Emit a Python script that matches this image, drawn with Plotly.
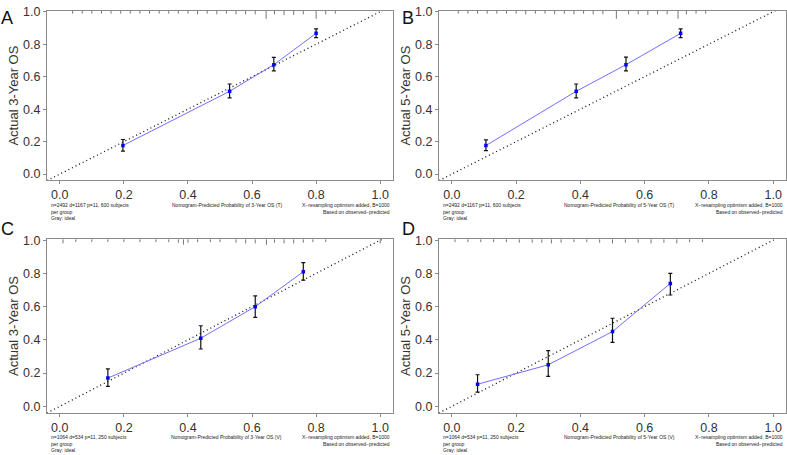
import plotly.graph_objects as go

# ---------------- data ----------------
panel_letters = ["A", "B", "C", "D"]
y_titles = ["Actual 3-Year OS", "Actual 5-Year OS", "Actual 3-Year OS", "Actual 5-Year OS"]
x_titles = ["Nomogram-Predicted Probability of 3-Year OS (T)",
            "Nomogram-Predicted Probability of 5-Year OS (T)",
            "Nomogram-Predicted Probability of 3-Year OS (V)",
            "Nomogram-Predicted Probability of 5-Year OS (V)"]
left_notes = ["n=2492 d=1167 p=11, 600 subjects<br>per group<br>Gray: ideal",
              "n=2492 d=1167 p=11, 600 subjects<br>per group<br>Gray: ideal",
              "n=1064 d=534 p=11, 250 subjects<br>per group<br>Gray: ideal",
              "n=1064 d=534 p=11, 250 subjects<br>per group<br>Gray: ideal"]
right_notes = ["X\u2212resampling optimism added, B=1000<br>Based on observed\u2212predicted"] * 4

a_pred = [0.197, 0.530, 0.668, 0.800]
a_obs = [0.176, 0.510, 0.674, 0.867]
a_lo = [0.142, 0.470, 0.636, 0.841]
a_hi = [0.213, 0.555, 0.719, 0.895]

b_pred = [0.106, 0.387, 0.542, 0.712]
b_obs = [0.176, 0.510, 0.674, 0.867]
b_lo = [0.144, 0.470, 0.636, 0.841]
b_hi = [0.211, 0.555, 0.720, 0.895]

c_pred = [0.150, 0.440, 0.610, 0.760]
c_obs = [0.170, 0.410, 0.600, 0.810]
c_lo = [0.120, 0.345, 0.535, 0.760]
c_hi = [0.225, 0.485, 0.665, 0.865]

d_pred = [0.080, 0.300, 0.500, 0.680]
d_obs = [0.133, 0.250, 0.450, 0.740]
d_lo = [0.085, 0.180, 0.385, 0.670]
d_hi = [0.190, 0.335, 0.530, 0.800]

# rug (distribution of predicted values) at the top: positions and relative heights
a_rug_x = [0.04, 0.07, 0.10, 0.13, 0.16, 0.19, 0.22, 0.25, 0.28, 0.31, 0.34, 0.37, 0.40, 0.43,
           0.46, 0.49, 0.52, 0.55, 0.58, 0.61, 0.644, 0.67, 0.70, 0.73, 0.76, 0.80, 0.83, 0.86]
a_rug_h = [1, 1, 1, 1, 1, 1, 1, 1, 1, 1, 1, 1, 1, 1.5, 1, 1.5, 1, 1.5, 1.5, 1.5, 5, 1.5, 2, 2, 1.5, 5, 1.5, 1]
b_rug_x = [0.02, 0.05, 0.08, 0.11, 0.14, 0.17, 0.20, 0.23, 0.26, 0.29, 0.32, 0.35, 0.38, 0.41,
           0.44, 0.47, 0.512, 0.55, 0.58, 0.61, 0.64, 0.67, 0.704, 0.73, 0.76, 0.79]
b_rug_h = [1, 1, 1, 1, 1, 1, 1, 1.5, 1, 1, 1.5, 1, 1.5, 1, 1.5, 1.5, 5, 1.5, 1.5, 2, 1.5, 1.5, 5, 1.5, 1, 1]
c_rug_x = [0.01, 0.05, 0.10, 0.15, 0.20, 0.25, 0.30, 0.34, 0.37, 0.386, 0.40, 0.43, 0.47, 0.50,
           0.55, 0.58, 0.61, 0.645, 0.67, 0.70, 0.73, 0.76, 0.79, 0.83, 1.00]
c_rug_h = [2, 1, 1, 1, 1, 1, 1, 1, 1.5, 3, 1.5, 1, 1, 1, 1.5, 2, 2, 3, 1.5, 2, 2, 1.5, 1, 1, 2]
d_rug_x = [0.01, 0.05, 0.09, 0.13, 0.17, 0.21, 0.25, 0.28, 0.31, 0.34, 0.38, 0.42, 0.46, 0.50,
           0.54, 0.58, 0.62, 0.66, 0.70, 0.74, 0.78]
d_rug_h = [1, 1, 1, 1, 1, 1.5, 1.5, 1.5, 2, 1.5, 1, 1, 1.5, 2, 1.5, 1.5, 2, 1.5, 2, 1, 1]

series = [
    (a_pred, a_obs, a_lo, a_hi, a_rug_x, a_rug_h),
    (b_pred, b_obs, b_lo, b_hi, b_rug_x, b_rug_h),
    (c_pred, c_obs, c_lo, c_hi, c_rug_x, c_rug_h),
    (d_pred, d_obs, d_lo, d_hi, d_rug_x, d_rug_h),
]

# ---------------- layout geometry (pixels) ----------------
W, H = 787, 455
# (left, right, top, bottom) of each plot frame
frames = [(47, 393, 5, 177), (439, 786, 5, 177), (47, 393, 237, 413), (439, 786, 237, 413)]

X_RANGE = [-0.04, 1.04]
Y_RANGE = [-0.038, 1.005]
FONT = "Liberation Sans, Arial, Helvetica, sans-serif"
FRAME_COLOR = "#8a8a8a"
TEXT_COLOR = "#333333"

fig = go.Figure()
layout = dict(
    width=W, height=H,
    margin=dict(l=0, r=0, t=0, b=0),
    paper_bgcolor="white", plot_bgcolor="white",
    showlegend=False,
    font=dict(family=FONT, color=TEXT_COLOR),
    annotations=[], shapes=[],
)

for i, (pred, obs, lo, hi, rx, rh) in enumerate(series):
    n = i + 1
    xa = "x" if n == 1 else f"x{n}"
    ya = "y" if n == 1 else f"y{n}"
    l, r, t, b = frames[i]
    layout[f"xaxis{'' if n == 1 else n}"] = dict(
        domain=[l / W, r / W], range=X_RANGE, anchor=ya,
        tickvals=[0, 0.2, 0.4, 0.6, 0.8, 1.0], tickformat=".1f",
        showgrid=False, zeroline=False, showline=True, mirror=True,
        linecolor=FRAME_COLOR, linewidth=1, ticks="outside", ticklen=3,
        tickcolor=FRAME_COLOR, tickfont=dict(size=12.5, color=TEXT_COLOR, family=FONT),
        ticklabeloverflow="allow",
    )
    layout[f"yaxis{'' if n == 1 else n}"] = dict(
        domain=[1 - b / H, 1 - t / H], range=Y_RANGE, anchor=xa,
        tickvals=[0, 0.2, 0.4, 0.6, 0.8, 1.0], tickformat=".1f",
        showgrid=False, zeroline=False, showline=True, mirror=True,
        linecolor=FRAME_COLOR, linewidth=1, ticks="outside", ticklen=3,
        tickcolor=FRAME_COLOR, tickfont=dict(size=12.5, color=TEXT_COLOR, family=FONT),
        title=dict(text=y_titles[i], font=dict(size=13, color=TEXT_COLOR, family=FONT), standoff=1),
    )

    # ideal line
    fig.add_trace(go.Scatter(x=X_RANGE, y=X_RANGE, mode="lines", xaxis=xa, yaxis=ya,
                             line=dict(color="#111111", width=1.3, dash="1px,3px"), hoverinfo="skip"))
    # calibration curve
    fig.add_trace(go.Scatter(x=pred, y=obs, mode="lines+markers", xaxis=xa, yaxis=ya,
                             line=dict(color="#7070ff", width=1),
                             marker=dict(symbol="square", size=3.5, color="#0000ff"),
                             error_y=dict(type="data", symmetric=False,
                                          array=[h - o for h, o in zip(hi, obs)],
                                          arrayminus=[o - q for o, q in zip(obs, lo)],
                                          color="#111111", thickness=1.2, width=2)))
    # rug at top
    for xv, hv in zip(rx, rh):
        px = 1.5 + hv * 1.3
        layout["shapes"].append(dict(type="line", xref=xa, yref=f"{ya} domain",
                                     x0=xv, x1=xv, y0=1, y1=1 - px / (b - t),
                                     line=dict(color="#777777", width=1)))

    # panel letter
    lx = 7 if i % 2 == 0 else 408
    ly = 12 if i < 2 else 226
    layout["annotations"].append(dict(text=panel_letters[i], x=lx / W, y=1 - ly / H, xref="paper", yref="paper",
                                      showarrow=False, xanchor="center", yanchor="middle",
                                      font=dict(size=18, color="#111111", family=FONT)))
    # small notes below the x axis
    ny = b + 20
    layout["annotations"].append(dict(text=left_notes[i], x=(l + 2) / W, y=1 - ny / H, xref="paper", yref="paper",
                                      showarrow=False, xanchor="left", yanchor="top", align="left",
                                      font=dict(size=5, color="#222222", family=FONT)))
    layout["annotations"].append(dict(text=x_titles[i], x=(l + (r - l) * 0.52) / W, y=1 - ny / H,
                                      xref="paper", yref="paper",
                                      showarrow=False, xanchor="center", yanchor="top",
                                      font=dict(size=5, color="#222222", family=FONT)))
    layout["annotations"].append(dict(text=right_notes[i], x=(r - 1) / W, y=1 - ny / H, xref="paper", yref="paper",
                                      showarrow=False, xanchor="right", yanchor="top", align="right",
                                      font=dict(size=5, color="#222222", family=FONT)))

fig.update_layout(**layout)
fig.write_html("out.html", config={"displayModeBar": False},
               post_script="document.body.style.margin='0';document.body.style.padding='0';")
